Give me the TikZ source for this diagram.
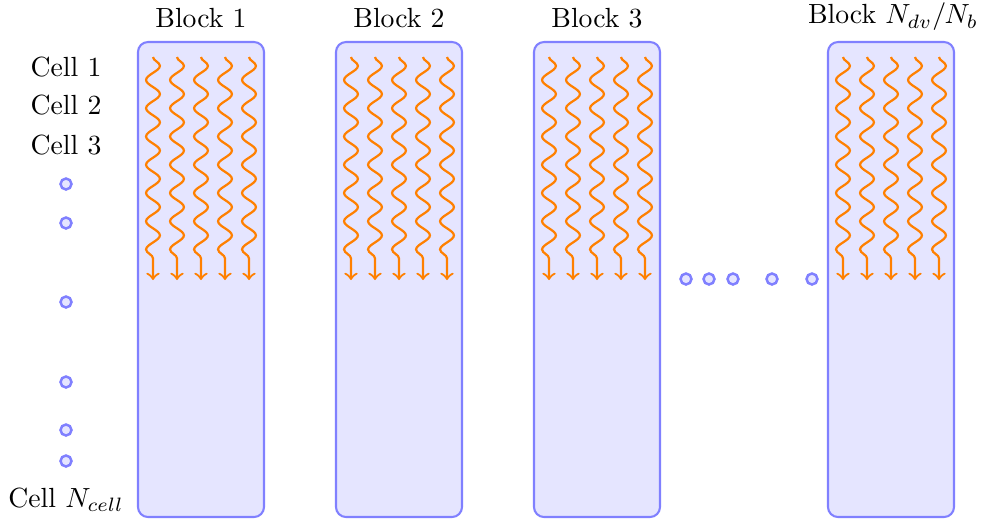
\documentclass[tikz,border=0pt]{standalone}
\usetikzlibrary{decorations.pathmorphing}

\tikzset{every picture/.style={line width=0.6pt}}
\tikzset{
  blockbox/.style={draw=blue!50, fill=blue!10, line width=0.75pt, rounded corners=3.6pt},
  dotmark/.style={draw=blue!50, fill=blue!10, line width=0.9pt},
  thread/.style={orange, line width=0.8pt, ->,
    decorate, decoration={snake, amplitude=2.5pt, segment length=10.2pt, post length=1.2mm}},
  label/.style={font=\normalsize, inner sep=0pt}
}

\begin{document}
\begin{tikzpicture}[x=0.361pt,y=0.361pt,yscale=-1,xscale=1]
\useasboundingbox (0,0) rectangle (988,519);

%Shape: Rectangle [id:block1]
\draw [blockbox] (138,42) rectangle (264,517) ;
%Shape: Rectangle [id:block2]
\draw [blockbox] (336,42) rectangle (462,517) ;
%Shape: Rectangle [id:block3]
\draw [blockbox] (534,42) rectangle (660,517) ;
%Shape: Rectangle [id:blockN]
\draw [blockbox] (828,42) rectangle (954,517) ;

%Curve Lines: threads of each block
\foreach \bx in {138,336,534,828}
  \foreach \dx in {15,39,63,87,111}
    \draw [thread] (\bx+\dx,57) -- (\bx+\dx,280) ;

%Shape: Circle: cells not shown
\foreach \cy in {184,223,302,382,430,461}
  \draw [dotmark] (66,\cy) circle (5.5) ;
%Shape: Circle: blocks not shown
\foreach \cx in {686,709,733,772,812}
  \draw [dotmark] (\cx,279) circle (5.5) ;

% Text Node
\node [label] (bl1) at (201,18) {Block 1};
% Text Node
\node [label] (bl2) at (399,18) {Block 2};
% Text Node
\node [label] (bl3) at (597,18) {Block 3};
% Text Node
\node [label] (blN) at (893,17) {Block $N_{dv}/N_{b}$};
% Text Node
\node [label] (c1) at (66,67) {Cell 1};
% Text Node
\node [label] (c2) at (66,105) {Cell 2};
% Text Node
\node [label] (c3) at (66,145) {Cell 3};
% Text Node
\node [label] (cN) at (66,500) {Cell $N_{cell}$};

\end{tikzpicture}
\end{document}
